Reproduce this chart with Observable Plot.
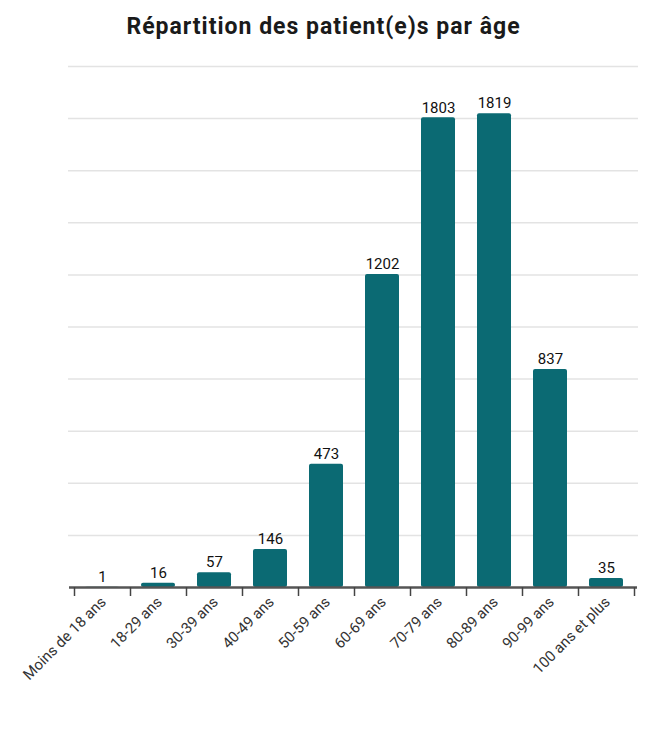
<!DOCTYPE html>
<html>
<head>
<meta charset="utf-8">
<script src="https://cdn.jsdelivr.net/npm/d3@7"></script>
<script src="https://cdn.jsdelivr.net/npm/@observablehq/plot@0.6"></script>
<style>
  html, body { margin: 0; padding: 0; background: #fff; }
  #title { font-family: Roboto, "Open Sans", sans-serif; font-weight: 700; font-size: 23px; color: #1a1a1a; text-align: center; height: 50px; line-height: 54px; letter-spacing: 1px; padding-right: 14px; }
</style>
</head>
<body>
<div id="title">Répartition des patient(e)s par âge</div>
<div id="chart"></div>
<script>
const categories = ["Moins de 18 ans", "18-29 ans", "30-39 ans", "40-49 ans", "50-59 ans", "60-69 ans", "70-79 ans", "80-89 ans", "90-99 ans", "100 ans et plus"];
const values = [1, 16, 57, 146, 473, 1202, 1803, 1819, 837, 35];
const gridValues = [0, 200, 400, 600, 800, 1000, 1200, 1400, 1600, 1800, 2000];

const data = categories.map((c, i) => ({age: c, n: values[i]}));

const W = 661, mL = 74, mR = 27;
const step = (W - mL - mR) / categories.length;
const color = "#0b6a73";

const chart = Plot.plot({
  width: W,
  height: 696,
  marginTop: 16,
  marginBottom: 159,
  marginLeft: mL,
  marginRight: mR,
  style: {fontFamily: "Roboto, sans-serif", background: "#fff"},
  x: {domain: categories, paddingInner: 0.4, paddingOuter: 0.2, label: null},
  y: {domain: [0, 2000], label: null},
  marks: [
    Plot.ruleY(gridValues.filter(d => d > 0), {stroke: "#e3e3e3", strokeWidth: 1.5, insetLeft: -6, insetRight: -4}),
    Plot.barY(data, {x: "age", y: "n", fill: color, rx: 2}),
    Plot.ruleY([0], {stroke: "#555", strokeWidth: 2.5, insetLeft: -5, insetRight: -3}),
    Plot.ruleX(categories, {x: d => d, y1: 0, y2: 0, insetBottom: -9, dx: -step / 2, stroke: "#444", strokeWidth: 1.5}),
    Plot.ruleX([categories[categories.length - 1]], {x: d => d, y1: 0, y2: 0, insetBottom: -9, dx: step / 2, stroke: "#444", strokeWidth: 1.5}),
    Plot.text(data, {x: "age", y: "n", text: d => String(d.n), dy: -10, fontSize: 15, fill: "#111"}),
    Plot.axisX({tickRotate: -45, tickSize: 0, tickPadding: 12, fontSize: 15, fill: "#333", dx: 1, label: null}),
    Plot.axisY({ticks: [], label: null})
  ]
});
document.getElementById("chart").appendChild(chart);
</script>
</body>
</html>
